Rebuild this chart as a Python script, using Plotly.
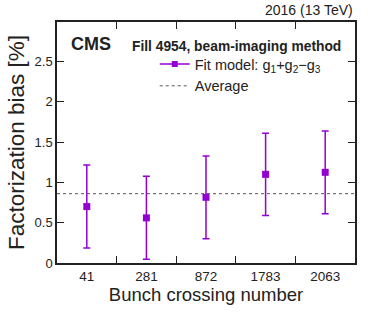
import plotly.graph_objects as go

bunches = ["41", "281", "872", "1783", "2063"]
bias = [0.70, 0.56, 0.815, 1.10, 1.125]
bias_err = [0.515, 0.515, 0.513, 0.51, 0.513]
average = 0.86
y_ticks = [0, 0.5, 1, 1.5, 2, 2.5]
y_tick_labels = ["0", "0.5", "1", "1.5", "2", "2.5"]

violet = "#9400D3"
font = "Liberation Sans, Arial, sans-serif"

fig = go.Figure()
fig.add_trace(go.Scatter(
    x=bunches, y=bias, mode="markers",
    marker=dict(symbol="square", size=7, color=violet),
    error_y=dict(type="data", array=bias_err, color=violet, thickness=1.5, width=3.5),
    showlegend=False,
))
fig.add_trace(go.Scatter(
    x=[None], y=[None], mode="lines+markers",
    marker=dict(symbol="square", size=6, color=violet),
    line=dict(color=violet, width=1.5),
    name="Fit model: g<sub>1</sub>+g<sub>2</sub>\u2212g<sub>3</sub>",
))
fig.add_shape(type="line", xref="x domain", x0=0, x1=1, yref="y", y0=average, y1=average,
              line=dict(color="#555555", width=1, dash="dot"),
              showlegend=True, name="Average")

fig.update_layout(
    width=374, height=312,
    margin=dict(l=57, r=19, t=22, b=49),
    paper_bgcolor="white", plot_bgcolor="white",
    font=dict(family=font, size=13, color="#222"),
    legend=dict(x=0.328, y=0.892, xanchor="left", yanchor="top",
                bgcolor="rgba(0,0,0,0)", font=dict(size=14.5), itemwidth=30,
                tracegroupgap=0),
    xaxis=dict(type="category", range=[-0.5, 4.5], tickson="boundaries", automargin=False,
               ticks="inside", ticklen=7, tickcolor="#222", showline=True,
               linecolor="#222", linewidth=1.5, mirror="ticks", showgrid=False,
               zeroline=False, tickfont=dict(size=13.5),
               title=dict(text="Bunch crossing number", font=dict(size=18.5), standoff=4)),
    yaxis=dict(range=[0, 2.99], tickvals=y_ticks, ticktext=y_tick_labels, automargin=False,
               ticks="inside", ticklen=7, tickcolor="#222", showline=True,
               linecolor="#222", linewidth=1.5, mirror="ticks", showgrid=False,
               zeroline=False, tickfont=dict(size=13),
               title=dict(text="Factorization bias [%]", font=dict(size=22.5), standoff=4)),
    annotations=[
        dict(text="2016 (13 TeV)", xref="paper", yref="paper", x=1, y=1.01,
             xanchor="right", yanchor="bottom", showarrow=False, font=dict(size=14)),
        dict(text="<b>CMS</b>", xref="paper", yref="paper", x=0.04, y=0.91,
             xanchor="left", yanchor="middle", showarrow=False, font=dict(size=18)),
        dict(text="<b>Fill 4954, beam-imaging method</b>", xref="paper", yref="paper",
             x=0.245, y=0.90, xanchor="left", yanchor="middle", showarrow=False,
             font=dict(size=13.8)),
    ],
)

fig.write_html("out.html", config={"displayModeBar": False},
               post_script="document.body.style.margin='0';document.body.style.overflow='hidden';")
